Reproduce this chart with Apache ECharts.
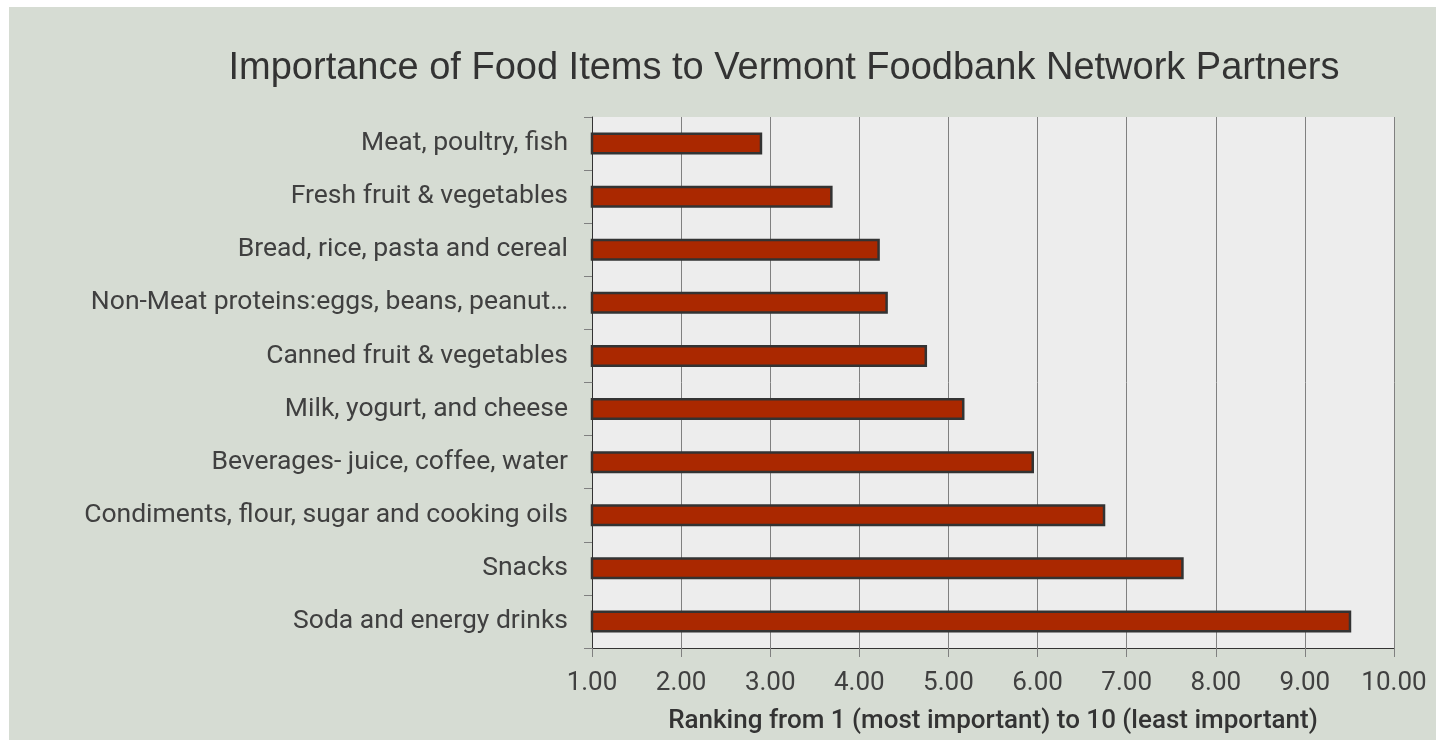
<!DOCTYPE html>
<html>
<head>
<meta charset="utf-8">
<script src="https://cdn.jsdelivr.net/npm/echarts@6/dist/echarts.min.js"></script>
<style>
html,body{margin:0;padding:0;background:#ffffff;width:1436px;height:740px;overflow:hidden;}
#chart{position:absolute;left:9px;top:7px;width:1427px;height:733px;background:#d6dcd3;}
</style>
</head>
<body>
<div id="chart"></div>
<script>
const categories = [
  "Meat, poultry, fish",
  "Fresh fruit & vegetables",
  "Bread, rice, pasta and cereal",
  "Non-Meat proteins:eggs, beans, peanut\u2026",
  "Canned fruit & vegetables",
  "Milk, yogurt, and cheese",
  "Beverages- juice, coffee, water",
  "Condiments, flour, sugar and cooking oils",
  "Snacks",
  "Soda and energy drinks"
];
const rankings = [2.91, 3.70, 4.23, 4.32, 4.76, 5.18, 5.96, 6.76, 7.64, 9.52];
const titleText = "Importance of Food Items to Vermont Foodbank Network Partners";
const xAxisName = "Ranking from 1 (most important) to 10 (least important)";

const chart = echarts.init(document.getElementById('chart'));
chart.setOption({
  backgroundColor: '#d6dcd3',
  animation: false,
  title: {
    text: titleText,
    left: 770, top: 38, textAlign: 'center',
    textStyle: {fontFamily: 'Liberation Sans, Arial', fontSize: 38, fontWeight: 'normal', color: '#333333'}
  },
  grid: {left: 583, right: 42, top: 110, bottom: 92, show: true, backgroundColor: '#ededed', borderWidth: 0},
  xAxis: {
    type: 'value', min: 1, max: 10, interval: 1,
    name: xAxisName, nameLocation: 'middle', nameGap: 60,
    nameTextStyle: {fontFamily: 'Roboto', fontSize: 26, fontWeight: 500, color: '#333333'},
    axisLine: {show: true, onZero: false, lineStyle: {color: '#333333', width: 1}},
    axisTick: {show: true, length: 9, lineStyle: {color: '#808080'}},
    axisLabel: {margin: 22, fontFamily: 'Roboto', fontSize: 26, color: '#404040', formatter: v => v.toFixed(2)},
    splitLine: {show: true, lineStyle: {color: '#808080', width: 1}}
  },
  yAxis: {
    type: 'category', data: categories, inverse: true,
    axisLine: {show: true, lineStyle: {color: '#333333', width: 1}},
    axisTick: {show: true, length: 8, lineStyle: {color: '#808080'}},
    axisLabel: {margin: 24, fontFamily: 'Roboto', fontSize: 26.5, color: '#404040'},
    splitLine: {show: false}
  },
  series: [{
    type: 'bar', data: rankings, barWidth: 22,
    itemStyle: {color: '#aa2800', borderColor: '#333333', borderWidth: 2.5}
  }]
});
</script>
</body>
</html>
